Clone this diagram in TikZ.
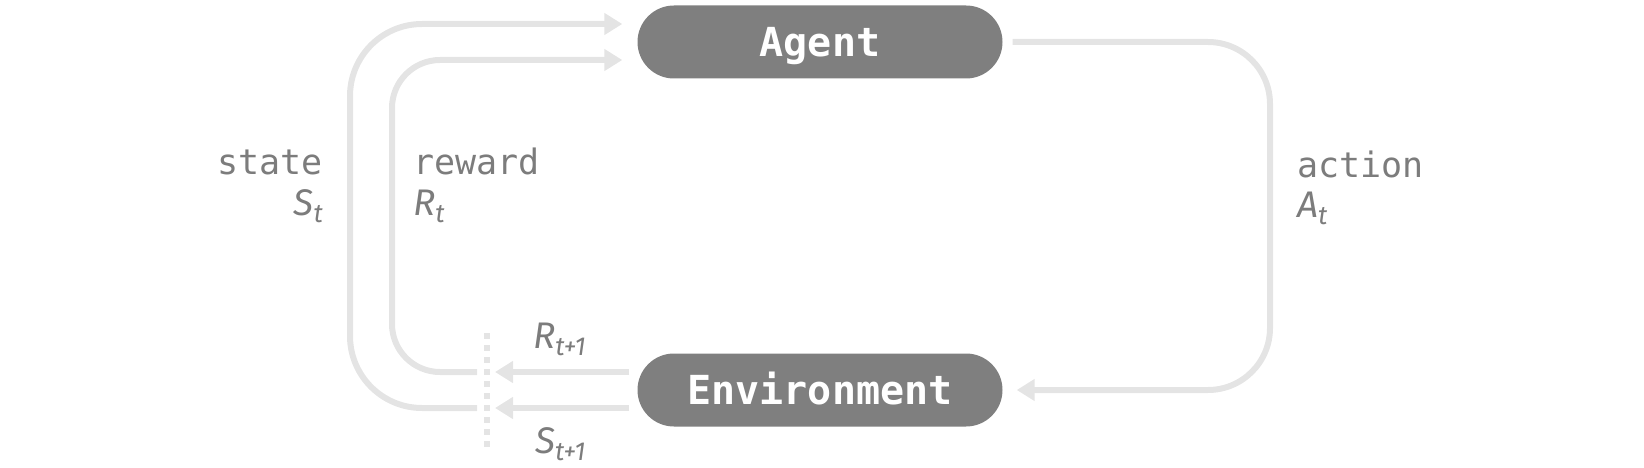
\documentclass[tikz,border=0pt]{standalone}
\usepackage{fontspec}
\usepackage{tikz}
\usetikzlibrary{
  arrows.meta}

\newfontfamily\codefont{DejaVu Sans Mono}
\newfontfamily\symfont{Fira Sans}
\newcommand\symlbl[2]{{\symfont\itshape #1\raisebox{-0.2em}{\fontsize{26pt}{26pt}\selectfont #2}}}

\definecolor{boxgray}{HTML}{7F7F7F}
\definecolor{flowgray}{HTML}{E4E4E4}
\definecolor{labelgray}{HTML}{7C7C7C}

\tikzset{
  box/.style={fill=boxgray, text=white, rounded corners=36.5pt,
    minimum width=365pt, minimum height=73pt, inner sep=0pt,
    text height=29pt, text depth=0pt,
    font=\codefont\bfseries\fontsize{40pt}{40pt}\selectfont},
  flow/.style={draw=flowgray, line width=6pt},
  flowtip/.style={-{Triangle[length=18pt,width=21pt]}},
  wordlbl/.style={text=labelgray, inner sep=0pt,
    font=\codefont\fontsize{35pt}{40pt}\selectfont},
  symlabel/.style={text=labelgray, inner sep=0pt,
    font=\fontsize{37pt}{40pt}\selectfont}
}

\begin{document}
\begin{tikzpicture}[x=1pt, y=-1pt]
\useasboundingbox (0,0) rectangle (1644,468);

\node[box] (agent) at (820,42) {Agent};
\node[box] (env) at (820,390) {Environment};

\coordinate (statex) at (350,0);
\coordinate (rewardx) at (392,0);
\coordinate (tailx) at (477,0);
\coordinate (tipx) at (495,0);
\coordinate (actionx) at (1270,0);
\coordinate (cuttop) at (487,333);
\coordinate (cutbot) at (487,452);

% action
\draw[flow, flowtip, rounded corners=62pt, shorten <=10pt, shorten >=14pt]
  (agent.east) -- (agent.east -| actionx)
  -- (env.east -| actionx) -- (env.east);

% out of the environment
\draw[flow, flowtip] ([xshift=-8pt,yshift=18pt]env.west)
  -- ([yshift=18pt]env.west -| tipx);
\draw[flow, flowtip] ([xshift=-8pt,yshift=-18pt]env.west)
  -- ([yshift=-18pt]env.west -| tipx);

\draw[draw=flowgray, line width=6pt, dash pattern=on 6pt off 6pt]
  (cuttop) -- (cutbot);

% back into the agent
\draw[flow, flowtip, rounded corners=48pt, shorten >=15pt]
  ([yshift=18pt]env.west -| tailx)
  -- ([yshift=18pt]env.west -| rewardx)
  -- ([yshift=-18pt]agent.west -| rewardx)
  -- ([yshift=-18pt]agent.west);
\draw[flow, flowtip, rounded corners=72pt, shorten >=15pt]
  ([yshift=-18pt]env.west -| tailx)
  -- ([yshift=-18pt]env.west -| statex)
  -- ([yshift=18pt]agent.west -| statex)
  -- ([yshift=18pt]agent.west);

\node[wordlbl, anchor=base east] (statetxt) at (323,175) {state};
\node[symlabel, anchor=base east] (statesym)
  at ([yshift=-40pt]statetxt.base east) {\symlbl{S}{t}};
\node[wordlbl, anchor=base west] (rewardtxt) at (413,175) {reward};
\node[symlabel, anchor=base west] (rewardsym)
  at ([yshift=-40pt]rewardtxt.base west) {\symlbl{R}{t}};
\node[wordlbl, anchor=base west] (actiontxt) at (1297,177) {action};
\node[symlabel, anchor=base west] (actionsym)
  at ([yshift=-40pt]actiontxt.base west) {\symlbl{A}{t}};

\node[symlabel, anchor=base west] (rnext) at (533,348) {\symlbl{R}{t+1}};
\node[symlabel, anchor=base west] (snext) at (535,453) {\symlbl{S}{t+1}};

\end{tikzpicture}
\end{document}
